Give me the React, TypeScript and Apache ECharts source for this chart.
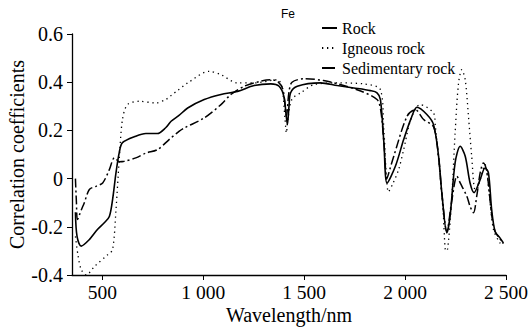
import React, { useEffect, useRef } from "react";
import * as echarts from "echarts";

// Fe correlation spectra for three rock groups
const rockWl = [367, 375, 396, 436, 477, 510, 535, 551, 568, 584, 600, 666, 716, 773, 814, 841, 880, 923, 1005, 1088, 1170, 1252, 1335, 1376, 1400, 1410, 1417, 1425, 1433, 1466, 1581, 1664, 1746, 1828, 1861, 1878, 1895, 1911, 1952, 1993, 2030, 2059, 2108, 2141, 2166, 2182, 2207, 2223, 2248, 2273, 2298, 2322, 2342, 2372, 2396, 2413, 2429, 2446, 2470, 2487];
const rockCorr = [-0.14, -0.24, -0.28, -0.253, -0.21, -0.183, -0.157, -0.087, 0.025, 0.108, 0.149, 0.176, 0.187, 0.187, 0.211, 0.238, 0.262, 0.293, 0.328, 0.349, 0.362, 0.386, 0.393, 0.383, 0.34, 0.27, 0.225, 0.3, 0.356, 0.383, 0.397, 0.386, 0.376, 0.365, 0.356, 0.328, 0.15, -0.018, 0.051, 0.162, 0.25, 0.296, 0.266, 0.224, 0.093, -0.058, -0.225, -0.156, 0.066, 0.134, 0.093, -0.018, -0.058, -0.004, 0.044, 0.024, -0.129, -0.219, -0.246, -0.267];

const igneousWl = [367, 380, 396, 421, 462, 528, 551, 568, 584, 600, 625, 683, 765, 814, 841, 872, 923, 1030, 1088, 1170, 1252, 1368, 1390, 1405, 1412, 1420, 1440, 1483, 1549, 1664, 1795, 1878, 1895, 1918, 1940, 1968, 1993, 2030, 2075, 2141, 2150, 2174, 2190, 2199, 2207, 2215, 2231, 2248, 2265, 2281, 2298, 2314, 2330, 2347, 2360, 2372, 2396, 2415, 2438, 2470, 2487];
const igneousCorr = [-0.24, -0.32, -0.378, -0.4, -0.364, -0.315, -0.295, -0.129, 0.079, 0.245, 0.307, 0.321, 0.314, 0.328, 0.345, 0.365, 0.397, 0.445, 0.431, 0.397, 0.397, 0.41, 0.38, 0.25, 0.19, 0.25, 0.33, 0.356, 0.39, 0.397, 0.393, 0.369, 0.2, -0.055, -0.02, 0.037, 0.12, 0.25, 0.307, 0.272, 0.217, 0.01, -0.156, -0.295, -0.3, -0.26, -0.087, 0.19, 0.397, 0.452, 0.41, 0.259, 0.093, -0.046, -0.04, -0.004, 0.058, -0.05, -0.212, -0.267, -0.28];

const sedimentaryWl = [367, 372, 377, 396, 411, 436, 469, 502, 535, 560, 585, 609, 666, 716, 773, 831, 880, 906, 1005, 1088, 1137, 1203, 1285, 1335, 1368, 1395, 1412, 1425, 1440, 1499, 1596, 1762, 1861, 1880, 1895, 1910, 1925, 1944, 2010, 2051, 2092, 2141, 2166, 2182, 2207, 2230, 2257, 2273, 2306, 2322, 2339, 2355, 2372, 2388, 2405, 2429, 2446, 2470, 2487];
const sedimentaryCorr = [0.0, -0.1, -0.17, -0.13, -0.1, -0.045, -0.032, -0.018, 0.037, 0.086, 0.07, 0.072, 0.086, 0.106, 0.12, 0.162, 0.196, 0.21, 0.252, 0.307, 0.349, 0.383, 0.404, 0.41, 0.404, 0.37, 0.26, 0.36, 0.4, 0.414, 0.407, 0.369, 0.328, 0.28, 0.15, 0.0, 0.04, 0.093, 0.259, 0.286, 0.245, 0.215, 0.09, -0.06, -0.22, -0.1, 0.01, -0.018, -0.073, -0.115, -0.142, -0.073, 0.024, 0.065, 0.03, -0.15, -0.22, -0.25, -0.27];

const xTicks = [500, 1000, 1500, 2000, 2500];
const seriesNames = ["Rock", "Igneous rock", "Sedimentary rock"];

const SERIF = "Liberation Serif";

const pairs = (xs: number[], ys: number[]) => xs.map((x, i) => [x, ys[i]]);

export default function App() {
  const ref = useRef<HTMLDivElement>(null);

  useEffect(() => {
    if (!ref.current) return;
    const chart = echarts.init(ref.current, undefined, { renderer: "svg" });
    const axisLine = { lineStyle: { color: "#000", width: 1.3 } };
    const lineBase = {
      type: "line",
      showSymbol: false,
      symbol: "none",
      smooth: 0.3,
      itemStyle: { color: "#000" },
    };
    chart.setOption({
      animation: false,
      backgroundColor: "#fff",
      color: ["#000", "#000", "#000"],
      textStyle: { fontFamily: SERIF, color: "#000" },
      grid: { left: 72, right: 23, top: 34, bottom: 53, containLabel: false, outerBoundsMode: "none" },
      graphic: [
        {
          type: "text",
          left: 281,
          top: 8,
          style: { text: "Fe", font: "12px 'Liberation Sans', Arial, sans-serif", fill: "#000" },
        },
      ],
      legend: {
        orient: "vertical",
        left: 316,
        top: 15,
        itemWidth: 15,
        itemHeight: 14,
        itemGap: 4,
        data: [
          { name: seriesNames[0] },
          { name: seriesNames[1] },
          { name: seriesNames[2], lineStyle: { type: [13, 20] } },
        ],
        itemStyle: { opacity: 0 },
        textStyle: { fontFamily: SERIF, fontSize: 16, color: "#000", lineHeight: 15 },
      },
      xAxis: {
        type: "value",
        min: 350,
        max: 2500,
        name: "Wavelength/nm",
        nameLocation: "middle",
        nameGap: 30,
        nameMoveOverlap: false,
        nameTextStyle: { fontFamily: SERIF, fontSize: 20, color: "#000" },
        axisLine: { ...axisLine, onZero: false },
        axisTick: { show: true, length: 5, lineStyle: { color: "#000" }, customValues: xTicks },
        axisLabel: {
          customValues: xTicks,
          margin: 7,
          fontFamily: SERIF,
          fontSize: 19.5,
          color: "#000",
          formatter: (v: number) => (v >= 1000 ? `${Math.floor(v / 1000)} ${String(v % 1000).padStart(3, "0")}` : String(v)),
        },
        splitLine: { show: false },
      },
      yAxis: {
        type: "value",
        min: -0.4,
        max: 0.6,
        interval: 0.2,
        name: "Correlation coefficients",
        nameLocation: "middle",
        nameGap: 45,
        nameMoveOverlap: false,
        nameTextStyle: { fontFamily: SERIF, fontSize: 20, color: "#000" },
        axisLine: { ...axisLine, show: true },
        axisTick: { show: true, length: 5, lineStyle: { color: "#000" } },
        axisLabel: {
          margin: 9,
          fontFamily: SERIF,
          fontSize: 20,
          color: "#000",
          formatter: (v: number) => (Math.abs(v) < 1e-9 ? "0" : v.toFixed(1)),
        },
        splitLine: { show: false },
      },
      series: [
        {
          ...lineBase,
          name: seriesNames[0],
          data: pairs(rockWl, rockCorr),
          lineStyle: { color: "#000", width: 1.6, type: "solid" },
          z: 3,
        },
        {
          ...lineBase,
          name: seriesNames[1],
          data: pairs(igneousWl, igneousCorr),
          lineStyle: { color: "#000", width: 1.3, type: [1.3, 3.7] },
          z: 2,
        },
        {
          ...lineBase,
          name: seriesNames[2],
          data: pairs(sedimentaryWl, sedimentaryCorr),
          lineStyle: { color: "#000", width: 1.5, type: [9, 3, 2, 3] },
          z: 2,
        },
      ],
    });
    return () => chart.dispose();
  }, []);

  return <div ref={ref} style={{ width: 529, height: 328, position: "absolute", left: 0, top: 0 }} />;
}
